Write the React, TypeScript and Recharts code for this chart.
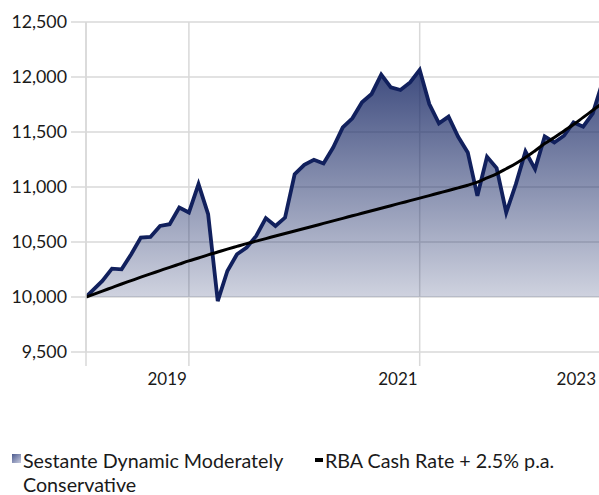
import React from 'react'
import {
  ComposedChart,
  Area,
  Line,
  XAxis,
  YAxis,
  CartesianGrid,
  Legend,
} from 'recharts'

// months counted from 1 Jan 2019 (first point is the inception date)
const months = [
  1.3, 3, 4, 5, 6, 7, 8, 9, 10, 11, 12, 13, 14, 15, 16, 17, 18, 19, 20, 21, 22,
  23, 24, 25, 26, 27, 28, 29, 30, 31, 32, 33, 34, 35, 36, 37, 38, 39, 40, 41, 42,
  43, 44, 45, 46, 47, 48, 49, 50, 51, 52, 53, 54, 55,
]

const fundValues = [
  10000, 10146, 10258, 10252, 10389, 10540, 10546, 10646, 10662, 10813, 10768,
  11026, 10754, 9963, 10237, 10389, 10449, 10555, 10717, 10646, 10722, 11117,
  11202, 11247, 11214, 11359, 11541, 11625, 11770, 11846, 12021, 11906, 11882,
  11951, 12064, 11754, 11578, 11639, 11457, 11314, 10920, 11275, 11172, 10768,
  11026, 11323, 11163, 11460, 11405, 11466, 11587, 11548, 11669, 11950,
]

const benchmarkValues = [
  10000, 10054, 10086, 10118, 10149, 10180, 10210, 10240, 10270, 10299, 10328,
  10355, 10383, 10409, 10435, 10460, 10485, 10508, 10531, 10554, 10577, 10600,
  10623, 10646, 10669, 10692, 10715, 10738, 10761, 10784, 10807, 10830, 10853,
  10876, 10899, 10922, 10945, 10968, 10992, 11016, 11044, 11082, 11120, 11166,
  11214, 11268, 11330, 11395, 11450, 11510, 11568, 11633, 11697, 11762,
]

const yTicks = [9500, 10000, 10500, 11000, 11500, 12000, 12500]
const xStart = months[0]
const xEnd = 54.75
const xTicks = [xStart, 12, 36, xEnd]
const xTickLabels = ['', '2019', '2021', '2023']

const fundName = 'Sestante Dynamic Moderately Conservative'
const benchmarkName = 'RBA Cash Rate + 2.5% p.a.'

const data = months.map((m, i) => ({
  m,
  fund: fundValues[i],
  benchmark: benchmarkValues[i],
}))

const FONT = 'Lato, "Open Sans", sans-serif'
const GRID = '#d9d9d9'
const NAVY = '#11205d'

function XTick({ x, y, payload }: any) {
  const i = xTicks.indexOf(payload.value)
  const isEnd = payload.value === xEnd
  return (
    <g>
      {!isEnd && <line x1={x} x2={x} y1={y} y2={y + 14} stroke={GRID} strokeWidth={1.5} />}
      {xTickLabels[i] && (
        <text
          x={isEnd ? x - 4 : x - 2}
          y={y + 33}
          textAnchor="end"
          fontSize={17}
          fontFamily={FONT}
          fill="#1a1a1a"
        >
          {xTickLabels[i]}
        </text>
      )}
    </g>
  )
}

function ChartLegend() {
  const text: React.CSSProperties = {
    position: 'absolute',
    top: 4,
    fontSize: 19.7,
    lineHeight: '24px',
    color: '#1a1a1a',
    fontFamily: FONT,
  }
  return (
    <div style={{ position: 'relative', width: 599, height: 50 }}>
      <div
        style={{
          position: 'absolute',
          left: 12,
          top: 9,
          width: 9,
          height: 9,
          background: 'linear-gradient(to bottom right, #4c5a8e, #c9cde0)',
        }}
      />
      <div style={{ ...text, left: 23, width: 275 }}>{fundName}</div>
      <div
        style={{ position: 'absolute', left: 315, top: 13, width: 8, height: 4, background: '#000' }}
      />
      <div style={{ ...text, left: 325, whiteSpace: 'nowrap' }}>{benchmarkName}</div>
    </div>
  )
}

export default function App() {
  return (
    <div
      style={{
        position: 'absolute',
        left: 0,
        top: 0,
        width: 599,
        height: 495,
        overflow: 'hidden',
        background: '#fff',
        fontFamily: FONT,
      }}
    >
      <ComposedChart
        width={600}
        height={495}
        data={data}
        margin={{ top: 22, right: 0, bottom: 0, left: 0 }}
      >
        <defs>
          <linearGradient id="fundFill" x1="0" y1="0" x2="0" y2="1">
            <stop offset="0%" stopColor="#1c2c68" stopOpacity={0.85} />
            <stop offset="100%" stopColor="#1c2c68" stopOpacity={0.2} />
          </linearGradient>
        </defs>
        <CartesianGrid stroke={GRID} strokeWidth={1.5} />
        <XAxis
          dataKey="m"
          type="number"
          domain={[xStart, xEnd]}
          ticks={xTicks}
          allowDataOverflow
          height={93}
          axisLine={false}
          tickLine={false}
          tickSize={0}
          tickMargin={0}
          tick={<XTick />}
          interval={0}
        />
        <YAxis
          type="number"
          domain={[9500, 12500]}
          ticks={yTicks}
          width={86}
          axisLine={{ stroke: GRID, strokeWidth: 1.5 }}
          tickLine={{ stroke: GRID, strokeWidth: 1.5 }}
          tickSize={15}
          tickMargin={4}
          tick={{ fontSize: 17.8, fill: '#1a1a1a', fontFamily: FONT }}
          tickFormatter={(v: number) => v.toLocaleString('en-US')}
        />
        <Area
          name={fundName}
          dataKey="fund"
          type="linear"
          baseValue={10000}
          stroke={NAVY}
          strokeWidth={3.8}
          fill="url(#fundFill)"
          fillOpacity={1}
          dot={false}
          activeDot={false}
          isAnimationActive={false}
        />
        <Line
          name={benchmarkName}
          dataKey="benchmark"
          type="monotone"
          stroke="#000"
          strokeWidth={3}
          dot={false}
          activeDot={false}
          isAnimationActive={false}
        />
        <Legend verticalAlign="bottom" content={<ChartLegend />} />
      </ComposedChart>
    </div>
  )
}
